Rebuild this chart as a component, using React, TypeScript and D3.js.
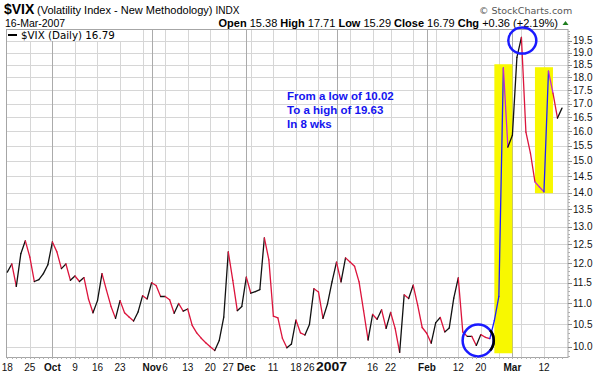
import React, { useEffect } from 'react';
import * as d3 from 'd3';

// ---------- DATA ----------
const startDate = '2006-09-18';
const endDate = '2007-03-16';
const marketHolidays = ['2006-11-23', '2006-12-25', '2007-01-01', '2007-01-02', '2007-01-15', '2007-02-19'];

// Daily closes of $VIX, one per trading day from 18-Sep-2006 to 16-Mar-2007
const vixClose = [
  11.77, 11.98, 11.41, 12.25, 12.6, 12.16, 11.53, 11.58, 11.73, 11.96,
  12.57, 12.3, 11.86, 11.98, 11.56, 11.67, 11.53, 11.63, 11.1, 10.77,
  11.06, 11.73, 11.31, 10.92, 10.64, 11.06, 10.77, 10.67, 10.58, 10.79,
  11.18, 11.1, 11.5, 11.43, 11.16, 11.16, 11.08, 10.76, 10.99, 10.81,
  10.86, 10.48, 10.31, 10.19, 10.09, 10.0, 9.92, 10.14, 10.67, 12.3,
  11.56, 10.82, 10.92, 11.64, 11.24, 11.28, 11.33, 12.68, 12.09, 10.69,
  10.65, 10.19, 9.98, 10.06, 10.6, 10.31, 10.26, 10.5, 11.35, 11.27,
  10.64, 10.98, 11.52, 12.03, 11.52, 12.14, 12.03, 11.92, 11.52, 10.82,
  10.15, 10.73, 10.62, 10.84, 10.41, 10.78, 10.41, 9.88, 11.2, 11.11,
  11.44, 10.95, 10.43, 10.3, 10.08, 10.54, 10.66, 10.33, 10.42, 11.12,
  11.62, 10.33, 10.23, 10.23, 10.03, 10.27, 10.21, 10.18, 10.59, 11.16,
  18.37, 15.46, 15.86, 18.8, 19.64, 15.97, 15.26, 14.33, 14.17, 14.02,
  18.24, 17.39, 16.47, 16.83,
];

// x-axis tick labels: [date, label, bold]
const xTickLabels: [string, string, boolean][] = [
  ['2006-09-18', '18', false], ['2006-09-25', '25', false], ['2006-10-02', 'Oct', true],
  ['2006-10-09', '9', false], ['2006-10-16', '16', false], ['2006-10-23', '23', false],
  ['2006-11-01', 'Nov', true], ['2006-11-06', '6', false], ['2006-11-13', '13', false],
  ['2006-11-20', '20', false], ['2006-11-27', '27', false], ['2006-12-01', 'Dec', true],
  ['2006-12-11', '11', false], ['2006-12-18', '18', false], ['2006-12-26', '26', false],
  ['2007-01-03', '2007', true], ['2007-01-16', '16', false], ['2007-01-22', '22', false],
  ['2007-02-01', 'Feb', true], ['2007-02-12', '12', false], ['2007-02-20', '20', false],
  ['2007-03-01', 'Mar', true], ['2007-03-12', '12', false],
];

const yTickValues = [10.0, 10.5, 11.0, 11.5, 12.0, 12.5, 13.0, 13.5, 14.0, 14.5, 15.0, 15.5, 16.0, 16.5, 17.0, 17.5, 18.0, 18.5, 19.0, 19.5];
const yDomain = [9.78, 20];

// hand-drawn annotations (data coordinates)
const highlightBoxes = [
  { from: '2007-02-23', to: '2007-03-01', low: 9.86, high: 18.52 },
  { from: '2007-03-08', to: '2007-03-14', low: 13.98, high: 18.4 },
];
const circleMarks = [
  { at: 104.4, value: 10.14 },
  { at: 114.2, value: 19.5 },
];
const blueSegmentEnds = [108, 109, 110, 120];
const magentaSegmentEnds = [111, 118, 119, 121];
const noteLines = ['From a low of 10.02', 'To a high of 19.63', 'In 8 wks'];

const quote = { open: '15.38', high: '17.71', low: '15.29', close: '16.79', chg: '+0.36 (+2.19%)' };

// ---------- HELPERS ----------
function tradingDays(): string[] {
  const fmt = d3.utcFormat('%Y-%m-%d');
  const out: string[] = [];
  const days = d3.utcDay.range(new Date(startDate + 'T00:00:00Z'), d3.utcDay.offset(new Date(endDate + 'T00:00:00Z'), 1));
  for (const d of days) {
    const wd = d.getUTCDay();
    const s = fmt(d);
    if (wd === 0 || wd === 6) continue;
    if (marketHolidays.includes(s)) continue;
    out.push(s);
  }
  return out;
}

const FONT = '"Liberation Sans", Arial, Helvetica, sans-serif';

export default function App() {
  useEffect(() => {
    document.body.style.margin = '0';
  }, []);

  const W = 600, H = 376;
  const plot = { left: 7, right: 568, top: 29, bottom: 357 };
  const dates = tradingDays();
  const idx = (s: string) => dates.indexOf(s);

  const x = d3.scaleLinear().domain([0, dates.length - 1]).range([7.3, 562]);
  const y = d3.scaleLog().domain(yDomain).range([plot.bottom, plot.top]);

  // week starts and month starts
  const weekStarts: number[] = [];
  const monthStarts: number[] = [];
  dates.forEach((d, i) => {
    if (i === 0) return;
    const prev = new Date(dates[i - 1] + 'T00:00:00Z');
    const cur = new Date(d + 'T00:00:00Z');
    if (d3.utcMonday.floor(prev).getTime() !== d3.utcMonday.floor(cur).getTime()) weekStarts.push(i);
    if (prev.getUTCMonth() !== cur.getUTCMonth()) monthStarts.push(i);
  });

  // segments
  const segs = vixClose.slice(1).map((v, j) => {
    const i = j + 1;
    let color = v >= vixClose[i - 1] ? '#111111' : '#dc143c';
    if (blueSegmentEnds.includes(i)) color = '#1f1fff';
    if (magentaSegmentEnds.includes(i)) color = '#c428d8';
    return { x1: x(i - 1), y1: y(vixClose[i - 1]), x2: x(i), y2: y(v), color };
  });

  // x labels with overlap resolution
  const isYear = (s: string, bold: boolean) => s.length === 4 && bold;
  const approxWidth = (s: string, bold: boolean) => {
    if (isYear(s, bold)) return 31;
    let w = 0;
    for (const ch of s) w += /[0-9]/.test(ch) ? 5.56 : ch === 'O' ? 7.8 : ch === 'N' || ch === 'D' || ch === 'M' ? (ch === 'M' ? 8.3 : 7.2) : ch === 'F' ? 6.1 : ch === 't' ? 3.3 : ch === 'r' ? 3.9 : 5.6;
    return w;
  };
  const labels = xTickLabels.map(([d, text, bold]) => {
    const w = approxWidth(text, bold);
    const cx = x(idx(d));
    const left = isYear(text, bold) ? cx + 10.5 - w : cx - w / 2;
    return { text, bold, w, left };
  });
  for (let i = labels.length - 2; i >= 0; i--) {
    const a = labels[i], b = labels[i + 1];
    if (a.left + a.w > b.left - 1.5) a.left = b.left - 1.5 - a.w;
  }

  const minorY = d3.range(98, 200).map((v) => v / 10);

  return (
    <svg width={W} height={H} style={{ position: 'absolute', left: 0, top: 0, background: '#fff', display: 'block' }} fontFamily={FONT}>
      <rect x={0} y={0} width={W} height={H} fill="#fff" />
      {/* header */}
      <text x={4} y={14} fontSize={14} fontWeight="bold" fill="#000">$VIX</text>
      <text x={37} y={13.5} fontSize={11} fill="#000">(Volatility Index - New Methodology) <tspan fontSize={10}>INDX</tspan></text>
      <text x={5} y={26.5} fontSize={10.5} fill="#000">16-Mar-2007</text>
      <text x={479} y={14} fontSize={9.5} fill="#555" fontFamily='"DejaVu Sans", Verdana, sans-serif'>© StockCharts.com</text>
      <text x={558} y={26.5} fontSize={11} textAnchor="end" fill="#000">
        <tspan fontWeight="bold">Open</tspan> {quote.open} <tspan fontWeight="bold">High</tspan> {quote.high}{' '}
        <tspan fontWeight="bold">Low</tspan> {quote.low} <tspan fontWeight="bold">Close</tspan> {quote.close}{' '}
        <tspan fontWeight="bold">Chg</tspan> {quote.chg}
      </text>
      <path d="M562.5,25 L568.5,25 L565.5,21 Z" fill="#1e7d1e" />

      {/* grid */}
      {yTickValues.map((v) => (
        <line key={'hy' + v} x1={plot.left} x2={plot.right} y1={Math.round(y(v)) + 0.5} y2={Math.round(y(v)) + 0.5} stroke="#d6d6d6" strokeWidth={1} />
      ))}
      {weekStarts.filter((i) => !monthStarts.includes(i)).map((i) => (
        <line key={'wx' + i} x1={Math.round(x(i)) + 0.5} x2={Math.round(x(i)) + 0.5} y1={plot.top} y2={plot.bottom} stroke="#d6d6d6" strokeWidth={1} />
      ))}
      {monthStarts.map((i) => (
        <line key={'mx' + i} x1={Math.round(x(i)) + 0.5} x2={Math.round(x(i)) + 0.5} y1={plot.top} y2={plot.bottom} stroke="#ababab" strokeWidth={1} />
      ))}

      {/* yellow highlight boxes */}
      {highlightBoxes.map((b, k) => (
        <rect key={'hb' + k} x={x(idx(b.from))} y={y(b.high)} width={x(idx(b.to)) - x(idx(b.from))} height={y(b.low) - y(b.high)} fill="#f8f800" />
      ))}

      {/* frame */}
      <rect x={plot.left - 0.5} y={plot.top + 0.5} width={plot.right - plot.left + 0.5} height={plot.bottom - plot.top} fill="none" stroke="#a6a6a6" strokeWidth={1} />

      {/* legend */}
      <rect x={8} y={30} width={118} height={11} fill="#fff" />
      <line x1={8} x2={17} y1={35} y2={35} stroke="#000" strokeWidth={2} />
      <text x={21} y={39} fontSize={10.3} fontFamily='"DejaVu Sans", Verdana, sans-serif' fill="#000">$VIX (Daily) 16.79</text>

      {/* price line */}
      {segs.map((s, k) => (
        <line key={'s' + k} x1={s.x1} y1={s.y1} x2={s.x2} y2={s.y2} stroke={s.color} strokeWidth={1.3} strokeLinecap="round" />
      ))}

      {/* circles */}
      <ellipse cx={x(circleMarks[0].at)} cy={y(circleMarks[0].value)} rx={15.5} ry={16} fill="none" stroke="#1a1aff" strokeWidth={2.5} />
      <path
        d={d3.arc()({ innerRadius: 15.7, outerRadius: 15.7, startAngle: Math.PI / 2 - 0.7, endAngle: Math.PI / 2 + 0.7 }) as string}
        transform={`translate(${x(circleMarks[0].at)},${y(circleMarks[0].value)})`}
        fill="none" stroke="#000" strokeWidth={2.5}
      />
      <ellipse cx={x(circleMarks[1].at)} cy={y(circleMarks[1].value)} rx={14} ry={13} fill="none" stroke="#1a1aff" strokeWidth={2.5} />

      {/* note */}
      {noteLines.map((t, k) => (
        <text key={'n' + k} x={287} y={99.5 + k * 14} fontSize={11.5} fontWeight="bold" fill="#1414f0">{t}</text>
      ))}

      {/* right axis */}
      {minorY.map((v) => (
        <line key={'my' + v} x1={plot.right} x2={plot.right + 2} y1={Math.round(y(v)) + 0.5} y2={Math.round(y(v)) + 0.5} stroke="#b0b0b0" strokeWidth={1} />
      ))}
      {yTickValues.map((v) => (
        <g key={'yt' + v}>
          <line x1={plot.right} x2={plot.right + 4} y1={Math.round(y(v)) + 0.5} y2={Math.round(y(v)) + 0.5} stroke="#8a8a8a" strokeWidth={1} />
          <text x={573} y={y(v) + 3.6} fontSize={10} fill="#111">{v.toFixed(1)}</text>
        </g>
      ))}

      {/* bottom axis */}
      {dates.map((d, i) => (
        <line key={'dt' + i} x1={Math.round(x(i)) + 0.5} x2={Math.round(x(i)) + 0.5} y1={plot.bottom} y2={plot.bottom + 2} stroke="#b0b0b0" strokeWidth={1} />
      ))}
      {labels.map((l, k) => (
        <text
          key={'xl' + k}
          x={l.left}
          y={370.5}
          fontSize={isYear(l.text, l.bold) ? 12 : 10}
          fontWeight={l.bold ? 'bold' : 'normal'}
          fill="#111"
          {...(isYear(l.text, l.bold) ? { textLength: l.w, lengthAdjust: 'spacingAndGlyphs' } : {})}
        >
          {l.text}
        </text>
      ))}
    </svg>
  );
}
